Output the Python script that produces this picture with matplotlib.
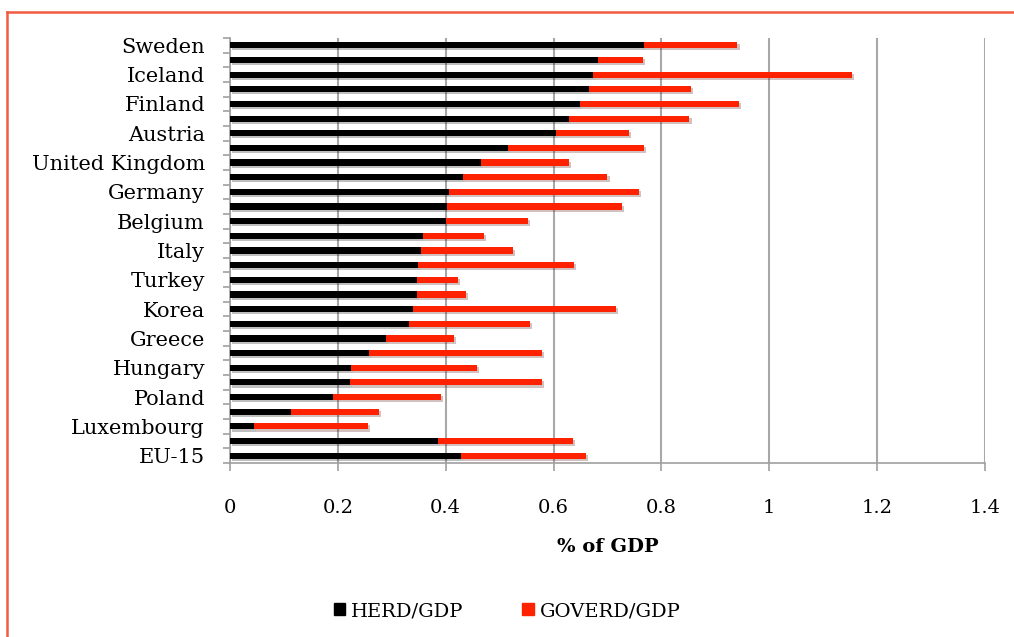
import matplotlib
matplotlib.use('Agg')
import matplotlib.pyplot as plt
import matplotlib.patheffects as pe
from matplotlib.lines import Line2D
from matplotlib.patches import Patch
import numpy as np

# countries, top to bottom (only every other one is labelled in the chart)
countries = ['Sweden', '', 'Iceland', '', 'Finland', '', 'Austria', '',
             'United Kingdom', '', 'Germany', '', 'Belgium', '', 'Italy', '',
             'Turkey', '', 'Korea', '', 'Greece', '', 'Hungary', '',
             'Poland', '', 'Luxembourg', '', 'EU-15']

herd = [0.768, 0.683, 0.674, 0.665, 0.649, 0.629, 0.605, 0.515,
        0.466, 0.432, 0.406, 0.403, 0.401, 0.358, 0.354, 0.349,
        0.346, 0.346, 0.340, 0.332, 0.290, 0.258, 0.224, 0.223,
        0.191, 0.113, 0.045, 0.386, 0.428]

# total (HERD + GOVERD) read at the end of each red bar
total = [0.941, 0.766, 1.154, 0.855, 0.943, 0.852, 0.740, 0.768,
         0.629, 0.700, 0.759, 0.727, 0.553, 0.471, 0.525, 0.638,
         0.423, 0.437, 0.716, 0.556, 0.415, 0.578, 0.458, 0.578,
         0.391, 0.276, 0.256, 0.636, 0.660]

goverd = [t - h for t, h in zip(total, herd)]

plt.rcParams['font.family'] = ['DejaVu Serif']

fig = plt.figure(figsize=(10.14, 6.37), dpi=100)
ax = fig.add_axes([230 / 1014, 1 - 463 / 637, 755 / 1014, 425 / 637])

y = np.arange(len(countries))
shadow = [pe.SimplePatchShadow(offset=(1.5, -1.5), alpha=0.25), pe.Normal()]
b1 = ax.barh(y, herd, height=0.42, color='black', label='HERD/GDP', zorder=3)
b2 = ax.barh(y, goverd, left=herd, height=0.42, color='#ff2200',
             label='GOVERD/GDP', zorder=3)
for bar in list(b1) + list(b2):
    bar.set_path_effects(shadow)

ax.set_xlim(0, 1.4)
ax.set_ylim(len(countries) - 0.5, -0.5)
ax.set_xticks(np.arange(0, 1.41, 0.2))
ax.set_xticklabels(['0', '0.2', '0.4', '0.6', '0.8', '1', '1.2', '1.4'])
ax.xaxis.grid(True, color='#a8a8a8', linewidth=1.5, zorder=0)

# labels at every other bar, tick marks between bars
ax.set_yticks(y[::2])
ax.set_yticklabels(countries[::2], va='center_baseline')
ax.set_yticks(np.arange(-0.5, len(countries), 1), minor=True)
ax.tick_params(axis='y', which='major', length=0, pad=18, labelsize=15)
ax.tick_params(axis='y', which='minor', length=5, color='#a0a0a0', width=1.2)
ax.tick_params(axis='x', length=6, color='#a0a0a0', width=1.2, pad=20,
               labelsize=14)

for s in ['top', 'right']:
    ax.spines[s].set_visible(False)
for s in ['left', 'bottom']:
    ax.spines[s].set_color('#a0a0a0')
    ax.spines[s].set_linewidth(1.2)

ax.set_xlabel('% of GDP', fontsize=14, fontweight='bold', labelpad=15)

handles = [Patch(color='black'), Patch(color='#ff2200')]
fig.legend(handles, ['HERD/GDP', 'GOVERD/GDP'], loc='center',
           bbox_to_anchor=(0.5, 1 - 611 / 637), ncol=2, frameon=False,
           fontsize=14, handlelength=0.6, handleheight=0.6,
           handletextpad=0.3, columnspacing=3)

# red frame around the chart (top and left edges visible)
fig.add_artist(Line2D([7 / 1014, 1.0], [1 - 12 / 637] * 2,
                      color='#f25a44', linewidth=1.8))
fig.add_artist(Line2D([7 / 1014] * 2, [0.0, 1 - 12 / 637],
                      color='#f25a44', linewidth=1.8))

fig.savefig('out.png', dpi=100)
